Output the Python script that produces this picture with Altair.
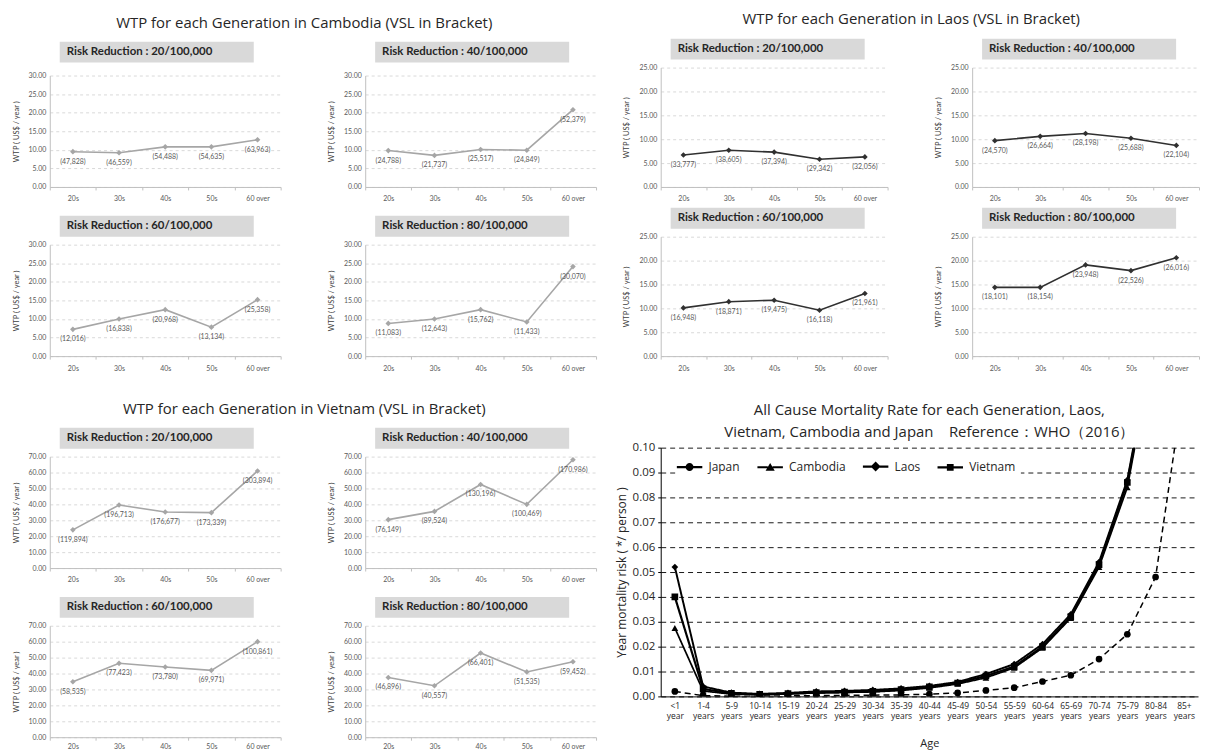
import altair as alt
import pandas as pd

# ---------------- data ----------------
generations = ["20s", "30s", "40s", "50s", "60 over"]

camb_wtp_20 = [9.5, 9.2, 10.8, 10.8, 12.7]
camb_vsl_20 = ["47,828", "46,559", "54,488", "54,635", "63,963"]
camb_wtp_40 = [9.8, 8.5, 10.1, 9.9, 20.8]
camb_vsl_40 = ["24,788", "21,737", "25,517", "24,849", "52,379"]
camb_wtp_60 = [7.2, 10.0, 12.5, 7.8, 15.2]
camb_vsl_60 = ["12,016", "16,838", "20,968", "13,134", "25,358"]
camb_wtp_80 = [8.8, 10.0, 12.5, 9.2, 24.1]
camb_vsl_80 = ["11,083", "12,643", "15,762", "11,433", "30,070"]

laos_wtp_20 = [6.7, 7.7, 7.3, 5.8, 6.3]
laos_vsl_20 = ["33,777", "38,605", "37,394", "29,342", "32,056"]
laos_wtp_40 = [9.7, 10.6, 11.2, 10.2, 8.7]
laos_vsl_40 = ["24,570", "26,664", "28,198", "25,688", "22,104"]
laos_wtp_60 = [10.1, 11.4, 11.7, 9.6, 13.1]
laos_vsl_60 = ["16,948", "18,871", "19,475", "16,118", "21,961"]
laos_wtp_80 = [14.4, 14.4, 19.1, 17.9, 20.6]
laos_vsl_80 = ["18,101", "18,154", "23,948", "22,526", "26,016"]

viet_wtp_20 = [24.0, 39.6, 35.2, 34.8, 61.0]
viet_vsl_20 = ["119,894", "196,713", "176,677", "173,339", "303,894"]
viet_wtp_40 = [30.4, 35.6, 52.5, 40.0, 68.0]
viet_vsl_40 = ["76,149", "89,524", "130,196", "100,469", "170,986"]
viet_wtp_60 = [34.8, 46.4, 44.1, 42.0, 60.0]
viet_vsl_60 = ["58,535", "77,423", "73,780", "69,971", "100,861"]
viet_wtp_80 = [37.5, 32.3, 52.9, 41.0, 47.4]
viet_vsl_80 = ["46,896", "40,557", "66,401", "51,535", "59,452"]

age_groups = ["<1 year", "1-4 years", "5-9 years", "10-14 years", "15-19 years",
              "20-24 years", "25-29 years", "30-34 years", "35-39 years", "40-44 years",
              "45-49 years", "50-54 years", "55-59 years", "60-64 years", "65-69 years",
              "70-74 years", "75-79 years", "80-84 years", "85+ years"]
mort_japan = [0.0020, 0.0003, 0.0001, 0.0001, 0.0002, 0.0003, 0.0004, 0.0005, 0.0006, 0.0009,
              0.0014, 0.0024, 0.0035, 0.0060, 0.0085, 0.0150, 0.0250, 0.0480, 0.1250]
mort_cambodia = [0.0275, 0.0022, 0.0009, 0.0007, 0.0010, 0.0014, 0.0016, 0.0018, 0.0024, 0.0034,
                 0.0050, 0.0075, 0.0115, 0.0195, 0.0315, 0.0520, 0.0840, 0.1450, 0.2500]
mort_laos = [0.0520, 0.0040, 0.0015, 0.0010, 0.0014, 0.0020, 0.0022, 0.0026, 0.0032, 0.0042,
             0.0058, 0.0090, 0.0130, 0.0210, 0.0330, 0.0540, 0.0870, 0.1480, 0.2500]
mort_vietnam = [0.0400, 0.0030, 0.0012, 0.0008, 0.0011, 0.0015, 0.0017, 0.0020, 0.0027, 0.0038,
                0.0054, 0.0082, 0.0120, 0.0200, 0.0320, 0.0530, 0.0860, 0.1460, 0.2500]
countries = ["Japan", "Cambodia", "Laos", "Vietnam"]

PANEL_FONT = "Lato"
TITLE_FONT = "Open Sans"


def wtp_panel(level, wtp, vsl, ymax, step, line_color, width, height, hy=-29, top_pad=0,
              xpad=5):
    df = pd.DataFrame({"gen": generations, "wtp": wtp,
                       "lbl": ["(" + v + ")" for v in vsl]})
    full_h = height + top_pad
    xenc = alt.X("gen:N", sort=generations, title=None,
                 scale=alt.Scale(paddingInner=0, paddingOuter=0),
                 axis=alt.Axis(labelAngle=0, labelFontSize=7, labelFont=PANEL_FONT,
                               labelColor="#595959", tickBand="extent",
                               domainColor="#bfbfbf", tickColor="#bfbfbf",
                               tickSize=3, labelPadding=xpad, grid=False))
    yenc = alt.Y("wtp:Q", title="WTP ( US$ / year )",
                 scale=alt.Scale(domain=[0, ymax], nice=False, range=[full_h, top_pad]),
                 axis=alt.Axis(values=list(range(0, ymax + 1, step)), format=".2f",
                               labelFontSize=7, labelFont=PANEL_FONT, labelColor="#595959",
                               titleFontSize=7.5, titleFont=PANEL_FONT,
                               titleFontWeight="normal", titleColor="#404040",
                               titlePadding=8, labelPadding=4, ticks=False,
                               grid=True, gridDash=[3, 3], gridColor="#d9d9d9",
                               domainColor="#bfbfbf"))
    line = alt.Chart(df).mark_line(
        color=line_color, strokeWidth=1.6,
        point=alt.OverlayMarkDef(shape="diamond", filled=True, color=line_color, size=32)
    ).encode(x=xenc, y=yenc)
    labels = alt.Chart(df).mark_text(dy=10, fontSize=7, font=PANEL_FONT,
                                     color="#595959").encode(x=xenc, y=yenc, text="lbl:N")
    hdf = pd.DataFrame({"t": ["Risk Reduction : " + level]})
    top = hy + top_pad
    box = alt.Chart(hdf).mark_rect(color="#d9d9d9").encode(
        x=alt.value(10), x2=alt.value(205), y=alt.value(top), y2=alt.value(top + 21))
    htxt = alt.Chart(hdf).mark_text(align="left", baseline="middle", fontSize=11.5,
                                    font=PANEL_FONT, fontWeight="bold",
                                    color="#262626").encode(
        x=alt.value(17), y=alt.value(top + 10.5), text="t:N")
    return alt.layer(box, htxt, line, labels).properties(width=width, height=full_h)


def group(title, panels, row_spacing, col_spacing, offset):
    return alt.concat(
        *panels, columns=2,
        spacing={"row": row_spacing, "column": col_spacing},
        title=alt.Title(title, fontSize=15, font=TITLE_FONT, fontWeight="normal",
                        color="#262626", anchor="middle", offset=offset))


GREY = "#a6a6a6"
DARK = "#303030"
levels = ["20/100,000", "40/100,000", "60/100,000", "80/100,000"]

camb = group("WTP for each Generation in Cambodia (VSL in Bracket)", [
    wtp_panel(levels[0], camb_wtp_20, camb_vsl_20, 30, 5, GREY, 232, 112, hy=-34, top_pad=8),
    wtp_panel(levels[1], camb_wtp_40, camb_vsl_40, 30, 5, GREY, 232, 112, hy=-34, top_pad=8),
    wtp_panel(levels[2], camb_wtp_60, camb_vsl_60, 30, 5, GREY, 232, 112),
    wtp_panel(levels[3], camb_wtp_80, camb_vsl_80, 30, 5, GREY, 232, 112),
], 14, 46, 11)

laos = group("WTP for each Generation in Laos (VSL in Bracket)", [
    wtp_panel(levels[0], laos_wtp_20, laos_vsl_20, 25, 5, DARK, 228, 120),
    wtp_panel(levels[1], laos_wtp_40, laos_vsl_40, 25, 5, DARK, 228, 120),
    wtp_panel(levels[2], laos_wtp_60, laos_vsl_60, 25, 5, DARK, 228, 120),
    wtp_panel(levels[3], laos_wtp_80, laos_vsl_80, 25, 5, DARK, 228, 120),
], 6, 46, 12)

viet = group("WTP for each Generation in Vietnam (VSL in Bracket)", [
    wtp_panel(levels[0], viet_wtp_20, viet_vsl_20, 70, 10, GREY, 232, 112),
    wtp_panel(levels[1], viet_wtp_40, viet_vsl_40, 70, 10, GREY, 232, 112),
    wtp_panel(levels[2], viet_wtp_60, viet_vsl_60, 70, 10, GREY, 232, 112, xpad=2),
    wtp_panel(levels[3], viet_wtp_80, viet_vsl_80, 70, 10, GREY, 232, 112, xpad=2),
], 14, 46, 11)

# ---------------- mortality chart ----------------
rows = []
for c, vals in zip(countries, [mort_japan, mort_cambodia, mort_laos, mort_vietnam]):
    for a, v in zip(age_groups, vals):
        rows.append({"age": a, "country": c, "rate": v})
mort_df = pd.DataFrame(rows)

xm = alt.X("age:N", sort=age_groups, title="Age",
           scale=alt.Scale(paddingInner=0, paddingOuter=0),
           axis=alt.Axis(labelExpr="split(datum.label, ' ')", labelAngle=0,
                         labelFontSize=8.5, labelFont=TITLE_FONT, labelColor="#262626",
                         ticks=False, domainColor="black", labelPadding=5,
                         titleFont=TITLE_FONT, titleFontSize=11, titleFontWeight="normal",
                         titleColor="#262626", titlePadding=17, grid=False))
ym = alt.Y("rate:Q", title="Year mortality risk ( */ person )",
           scale=alt.Scale(domain=[0, 0.1], nice=False),
           axis=alt.Axis(values=[round(i * 0.01, 2) for i in range(11)], format=".2f",
                         labelFontSize=11.5, labelFont=TITLE_FONT, labelColor="#262626",
                         titleFont=TITLE_FONT, titleFontSize=12, titleFontWeight="normal",
                         titleColor="#262626", titlePadding=4, labelPadding=3,
                         tickSize=3, tickColor="black", domainColor="black",
                         grid=True, gridDash=[5, 4], gridColor="black", gridOpacity=0.9))

mlines = alt.Chart(mort_df).mark_line(clip=True, color="black").encode(
    x=xm, y=ym, detail="country:N",
    strokeDash=alt.StrokeDash("country:N", legend=None,
                              scale=alt.Scale(domain=countries,
                                              range=[[6, 4], [1, 0], [1, 0], [1, 0]])),
    strokeWidth=alt.StrokeWidth("country:N", legend=None,
                                scale=alt.Scale(domain=countries, range=[1.5, 2.2, 2.2, 2.2])))
mpoints = alt.Chart(mort_df).mark_point(clip=True, filled=True, color="black",
                                        opacity=1, size=45).encode(
    x=xm, y=ym,
    shape=alt.Shape("country:N", legend=None,
                    scale=alt.Scale(domain=countries,
                                    range=["circle", "triangle-up", "diamond", "square"])))


def stubs(a):
    return (f"M-3.2,-0.28L-{a},-0.28L-{a},0.28L-3.2,0.28Z"
            f"M{a},-0.28L3.2,-0.28L3.2,0.28L{a},0.28Z")


legend_paths = [
    "M-1,0A1,1,0,1,1,1,0A1,1,0,1,1,-1,0Z" + stubs(0.95),
    "M0,-1.1L1.15,0.9L-1.15,0.9Z" + stubs(0.6),
    "M0,-1.25L1.25,0L0,1.25L-1.25,0Z" + stubs(1.0),
    "M-0.85,-0.85L0.85,-0.85L0.85,0.85L-0.85,0.85Z" + stubs(0.85),
]
mlegend = alt.Chart(mort_df).transform_filter("false").mark_point(
    filled=True, color="black", opacity=1, size=64).encode(
    x=xm, y=ym,
    shape=alt.Shape("country:N",
                    scale=alt.Scale(domain=countries, range=legend_paths),
                    legend=alt.Legend(title=None, orient="none", legendX=18, legendY=8,
                                      direction="horizontal",
                                      fillColor="white", labelFontSize=12,
                                      labelFont=TITLE_FONT, labelColor="#262626",
                                      symbolSize=64, labelOffset=13, columnPadding=14,
                                      padding=5)))

mort = alt.layer(mlines, mpoints, mlegend).resolve_scale(shape="independent").properties(
    width=540, height=250,
    title=alt.Title(["All Cause Mortality Rate for each Generation, Laos,",
                     "Vietnam, Cambodia and Japan\u00a0\u00a0\u00a0\u00a0Reference\uff1aWHO\uff082016\uff09"],
                    fontSize=15, font=TITLE_FONT, fontWeight="normal", color="#262626",
                    lineHeight=22, anchor="middle", offset=2))

left = alt.vconcat(camb, viet, spacing=31)
right = alt.vconcat(laos, mort, spacing=32)

chart = alt.concat(left, right, columns=2, spacing=18).properties(
    padding={"left": 4, "top": 2, "right": 0, "bottom": 0}
).configure_view(stroke=None)

chart.save("out.html", embed_options={"renderer": "svg", "actions": False})
